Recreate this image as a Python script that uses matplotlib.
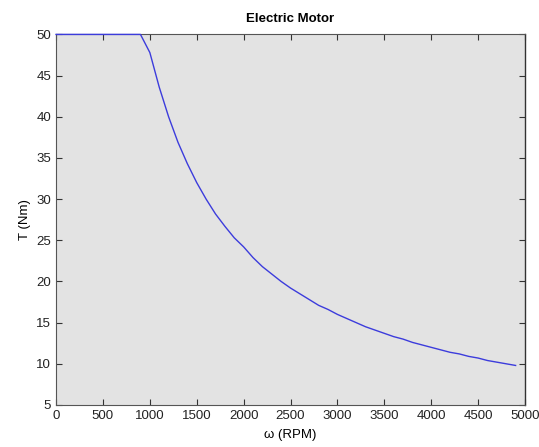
import numpy as np
import matplotlib
matplotlib.use('Agg')
import matplotlib.pyplot as plt

plt.rcParams['font.family'] = ['Liberation Sans', 'DejaVu Sans']

# motor speed (RPM) and torque (Nm)
omega = [0, 100, 200, 300, 400, 500, 600, 700, 800, 900,
         1000, 1100, 1200, 1300, 1400, 1500, 1600, 1700, 1800, 1900,
         2000, 2100, 2200, 2300, 2400, 2500, 2600, 2700, 2800, 2900,
         3000, 3100, 3200, 3300, 3400, 3500, 3600, 3700, 3800, 3900,
         4000, 4100, 4200, 4300, 4400, 4500, 4600, 4700, 4800, 4900]
torque = [50, 50, 50, 50, 50, 50, 50, 50, 50, 50,
          47.8, 43.6, 40.0, 36.9, 34.3, 32.0, 30.0, 28.2, 26.7, 25.3,
          24.2, 22.9, 21.8, 20.9, 20.0, 19.2, 18.5, 17.8, 17.1, 16.6,
          16.0, 15.5, 15.0, 14.5, 14.1, 13.7, 13.3, 13.0, 12.6, 12.3,
          12.0, 11.7, 11.4, 11.2, 10.9, 10.7, 10.4, 10.2, 10.0, 9.8]

xticks = np.arange(0, 5001, 500)
yticks = np.arange(5, 51, 5)

fig = plt.figure(figsize=(5.39, 4.47), dpi=100)
ax = fig.add_axes([0.104, 0.094, 0.870, 0.829])
ax.set_facecolor('#e3e3e3')

ax.plot(omega, torque, color='#3c3cdc', linewidth=1.0, clip_on=False, zorder=5)

ax.set_xlim(0, 5000)
ax.set_ylim(5, 50)
ax.set_xticks(xticks)
ax.set_yticks(yticks)
ax.tick_params(direction='in', top=True, right=True, labelsize=9.5, length=4,
               width=0.8, colors='#333333', labelcolor='#222222')
for s in ax.spines.values():
    s.set_linewidth(0.8)
    s.set_color('#555555')
ax.spines['right'].set_color('#333333')
ax.spines['right'].set_linewidth(1.0)

ax.set_title('Electric Motor', fontsize=9.5, fontweight='bold', pad=9)
ax.set_xlabel('ω (RPM)', fontsize=9.5, labelpad=5)
ax.set_ylabel('T (Nm)', fontsize=9.5, labelpad=4)

fig.savefig('out.png', dpi=100)
